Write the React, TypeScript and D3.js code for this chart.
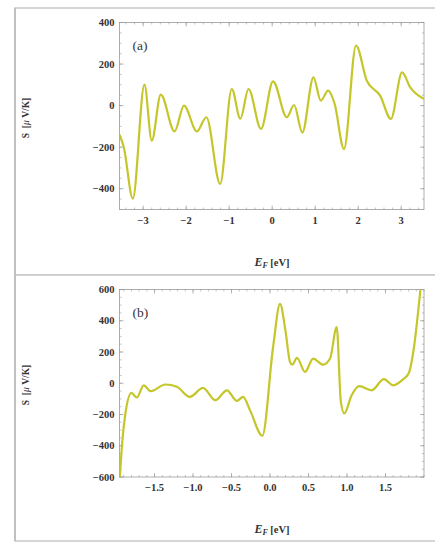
import React from 'react';
import * as d3 from 'd3';

// panel (a): Seebeck coefficient vs Fermi energy, wide range
const energyA = [-3.55, -3.45, -3.24, -2.97, -2.8, -2.59, -2.27, -2.05, -1.75, -1.53, -1.21, -0.94, -0.74, -0.55, -0.26, 0.02, 0.34, 0.51, 0.7, 0.96, 1.13, 1.3, 1.45, 1.67, 1.95, 2.2, 2.51, 2.76, 3.02, 3.21, 3.53];
const seebeckA = [-140, -200, -448, 101, -169, 53, -124, 0, -124, -56, -377, 80, -63, 80, -112, 117, -56, 3, -130, 136, 24, 72, 10, -209, 289, 120, 48, -64, 160, 88, 32];

// panel (b): narrower range
const energyB = [-1.95, -1.92, -1.88, -1.8, -1.73, -1.64, -1.55, -1.36, -1.21, -1.04, -0.87, -0.71, -0.56, -0.43, -0.35, -0.26, -0.1, 0.04, 0.13, 0.2, 0.26, 0.29, 0.35, 0.455, 0.56, 0.69, 0.78, 0.866, 0.92, 0.965, 1.06, 1.16, 1.32, 1.48, 1.6, 1.73, 1.8, 1.87, 1.93, 1.97];
const seebeckB = [-600, -380, -200, -62, -91, -13, -51, -8, -23, -87, -30, -108, -45, -113, -87, -172, -336, 232, 508, 338, 136, 119, 162, 72, 158, 119, 158, 359, -119, -193, -77, -19, -45, 26, -13, 26, 62, 232, 487, 680];

const xTicksA = [-3, -2, -1, 0, 1, 2, 3];
const yTicksA = [-400, -200, 0, 200, 400];
const xTicksB = [-1.5, -1.0, -0.5, 0.0, 0.5, 1.0, 1.5];
const yTicksB = [-600, -400, -200, 0, 200, 400, 600];

const W = 435;
const H = 543;
const LINE = '#c4c62a';
const FRAME = '#9a9a9a';
const SERIF = '"Liberation Serif", "DejaVu Serif", serif';

type PanelProps = {
  top: number;
  bottom: number;
  xDomain: [number, number];
  yDomain: [number, number];
  xs: number[];
  ys: number[];
  xTicks: number[];
  yTicks: number[];
  xMinor: number;
  yMinor: number;
  xFmt: (v: number) => string;
  tag: string;
  id: string;
  labelY: number;
};

function Panel(p: PanelProps) {
  const left = 119.5;
  const right = 424;
  const x = d3.scaleLinear().domain(p.xDomain).range([left, right]);
  const y = d3.scaleLinear().domain(p.yDomain).range([p.bottom, p.top]);

  const pts = p.xs.map((e, i) => [e, p.ys[i]] as [number, number]);
  const line = d3
    .line<[number, number]>()
    .x((d) => x(d[0]))
    .y((d) => y(d[1]))
    .curve(d3.curveMonotoneX);

  const xMinorTicks = d3.range(
    Math.ceil(p.xDomain[0] / p.xMinor) * p.xMinor,
    p.xDomain[1] + 1e-9,
    p.xMinor
  );
  const yMinorTicks = d3.range(p.yDomain[0], p.yDomain[1] + 1e-9, p.yMinor);
  const fmtY = (v: number) => (v < 0 ? '\u2212' + Math.abs(v) : String(v));

  return (
    <g>
      <defs>
        <clipPath id={p.id}>
          <rect x={left} y={p.top} width={right - left} height={p.bottom - p.top} />
        </clipPath>
      </defs>

      {/* minor ticks, all four sides */}
      {xMinorTicks.map((t, i) => (
        <g key={'xm' + i} stroke={FRAME} strokeWidth={0.6}>
          <line x1={x(t)} x2={x(t)} y1={p.bottom} y2={p.bottom - 2} />
          <line x1={x(t)} x2={x(t)} y1={p.top} y2={p.top + 2} />
        </g>
      ))}
      {yMinorTicks.map((t, i) => (
        <g key={'ym' + i} stroke={FRAME} strokeWidth={0.6}>
          <line x1={left} x2={left + 2} y1={y(t)} y2={y(t)} />
          <line x1={right} x2={right - 2} y1={y(t)} y2={y(t)} />
        </g>
      ))}
      {p.xTicks.map((t, i) => (
        <g key={'xM' + i} stroke={FRAME} strokeWidth={0.7}>
          <line x1={x(t)} x2={x(t)} y1={p.bottom} y2={p.bottom - 4} />
          <line x1={x(t)} x2={x(t)} y1={p.top} y2={p.top + 4} />
        </g>
      ))}
      {p.yTicks.map((t, i) => (
        <g key={'yM' + i} stroke={FRAME} strokeWidth={0.7}>
          <line x1={left} x2={left + 4} y1={y(t)} y2={y(t)} />
          <line x1={right} x2={right - 4} y1={y(t)} y2={y(t)} />
        </g>
      ))}
      <rect
        x={left}
        y={p.top}
        width={right - left}
        height={p.bottom - p.top}
        fill="none"
        stroke={FRAME}
        strokeWidth={0.8}
      />

      <path
        d={line(pts) || ''}
        fill="none"
        stroke={LINE}
        strokeWidth={2.2}
        strokeLinejoin="round"
        clipPath={`url(#${p.id})`}
      />

      {/* tick labels */}
      {p.xTicks.map((t, i) => (
        <text
          key={'xl' + i}
          x={x(t)}
          y={p.bottom + 14}
          textAnchor="middle"
          fontFamily={SERIF}
          fontWeight="bold"
          fontSize={10.5}
          fill="#333"
        >
          {p.xFmt(t)}
        </text>
      ))}
      {p.yTicks.map((t, i) => (
        <text
          key={'yl' + i}
          x={left - 5}
          y={y(t) + 3.5}
          textAnchor="end"
          fontFamily={SERIF}
          fontWeight="bold"
          fontSize={10.5}
          fill="#333"
        >
          {fmtY(t)}
        </text>
      ))}

      <text x={left + 13} y={p.top + 27} fontFamily={SERIF} fontSize={13.5} fill="#333">
        {p.tag}
      </text>

      <text
        transform={`translate(29, ${p.labelY}) rotate(-90)`}
        textAnchor="middle"
        fontFamily={SERIF}
        fontWeight="bold"
        fontSize={9.5}
        fill="#333"
        style={{ whiteSpace: 'pre' }}
      >
        {'S  ['}<tspan fontStyle="italic" fontWeight="normal">μ</tspan>{' V/K]'}
      </text>

      <text
        x={272}
        y={p.bottom + 56}
        textAnchor="middle"
        fontFamily={SERIF}
        fontWeight="bold"
        fontSize={10.5}
        fill="#333"
      >
        <tspan fontStyle="italic" fontSize={12}>E</tspan>
        <tspan fontStyle="italic" fontSize={8} dy={2}>F</tspan>
        <tspan dy={-2}> [eV]</tspan>
      </text>
    </g>
  );
}

export default function App() {
  const fmtA = (v: number) => (v < 0 ? '\u2212' + Math.abs(v) : String(v));
  const fmtB = (v: number) => (v < 0 ? '\u2212' + Math.abs(v).toFixed(1) : v.toFixed(1));
  return (
    <svg
      width={W}
      height={H}
      style={{ position: 'absolute', left: 0, top: 0, background: '#fff' }}
    >
      <rect x={15} y={8} width={440} height={267} fill="#fff" stroke="#c8c8c8" strokeWidth={1.5} />
      <rect x={15} y={275} width={440} height={266} fill="#fff" stroke="#c8c8c8" strokeWidth={1.5} />
      <line x1={15} x2={15} y1={8} y2={541} stroke="#c0c0c0" strokeWidth={2} />

      <Panel
        id="clipA"
        top={22.5}
        bottom={209.5}
        labelY={118}
        xDomain={[-3.55, 3.53]}
        yDomain={[-500, 400]}
        xs={energyA}
        ys={seebeckA}
        xTicks={xTicksA}
        yTicks={yTicksA}
        xMinor={0.2}
        yMinor={50}
        xFmt={fmtA}
        tag="(a)"
      />
      <Panel
        id="clipB"
        top={289.5}
        bottom={477}
        labelY={385}
        xDomain={[-1.955, 2.0]}
        yDomain={[-600, 600]}
        xs={energyB}
        ys={seebeckB}
        xTicks={xTicksB}
        yTicks={yTicksB}
        xMinor={0.1}
        yMinor={50}
        xFmt={fmtB}
        tag="(b)"
      />
    </svg>
  );
}
